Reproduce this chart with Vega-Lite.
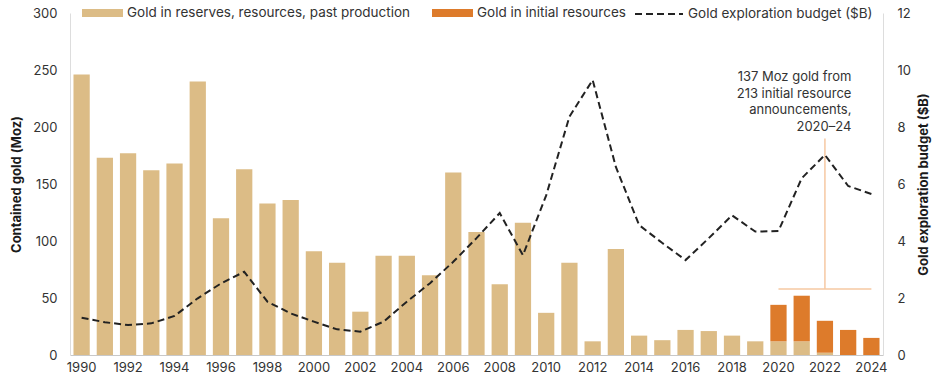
{
  "$schema": "https://vega.github.io/schema/vega-lite/v6.json",
  "autosize": "none",
  "width": 813,
  "height": 342,
  "padding": {"left": 70, "top": 13, "right": 59, "bottom": 29},
  "background": "white",
  "config": {
    "font": "Inter",
    "view": {"stroke": null},
    "axis": {"labelFont": "Inter", "labelFontSize": 13, "labelColor": "#333333", "titleFont": "Inter", "titleFontSize": 13, "titleColor": "#1a1a1a", "titleFontWeight": "bold", "ticks": false, "grid": false},
    "legend": {"labelFont": "Inter", "labelFontSize": 13.5, "labelColor": "#333333", "labelLimit": 0}
  },
  "datasets": {
    "bars": [
      {"year": 1990, "series": "Gold in reserves, resources, past production", "value": 246},
      {"year": 1991, "series": "Gold in reserves, resources, past production", "value": 173},
      {"year": 1992, "series": "Gold in reserves, resources, past production", "value": 177},
      {"year": 1993, "series": "Gold in reserves, resources, past production", "value": 162},
      {"year": 1994, "series": "Gold in reserves, resources, past production", "value": 168},
      {"year": 1995, "series": "Gold in reserves, resources, past production", "value": 240},
      {"year": 1996, "series": "Gold in reserves, resources, past production", "value": 120},
      {"year": 1997, "series": "Gold in reserves, resources, past production", "value": 163},
      {"year": 1998, "series": "Gold in reserves, resources, past production", "value": 133},
      {"year": 1999, "series": "Gold in reserves, resources, past production", "value": 136},
      {"year": 2000, "series": "Gold in reserves, resources, past production", "value": 91},
      {"year": 2001, "series": "Gold in reserves, resources, past production", "value": 81},
      {"year": 2002, "series": "Gold in reserves, resources, past production", "value": 38},
      {"year": 2003, "series": "Gold in reserves, resources, past production", "value": 87},
      {"year": 2004, "series": "Gold in reserves, resources, past production", "value": 87},
      {"year": 2005, "series": "Gold in reserves, resources, past production", "value": 70},
      {"year": 2006, "series": "Gold in reserves, resources, past production", "value": 160},
      {"year": 2007, "series": "Gold in reserves, resources, past production", "value": 108},
      {"year": 2008, "series": "Gold in reserves, resources, past production", "value": 62},
      {"year": 2009, "series": "Gold in reserves, resources, past production", "value": 116},
      {"year": 2010, "series": "Gold in reserves, resources, past production", "value": 37},
      {"year": 2011, "series": "Gold in reserves, resources, past production", "value": 81},
      {"year": 2012, "series": "Gold in reserves, resources, past production", "value": 12},
      {"year": 2013, "series": "Gold in reserves, resources, past production", "value": 93},
      {"year": 2014, "series": "Gold in reserves, resources, past production", "value": 17},
      {"year": 2015, "series": "Gold in reserves, resources, past production", "value": 13},
      {"year": 2016, "series": "Gold in reserves, resources, past production", "value": 22},
      {"year": 2017, "series": "Gold in reserves, resources, past production", "value": 21},
      {"year": 2018, "series": "Gold in reserves, resources, past production", "value": 17},
      {"year": 2019, "series": "Gold in reserves, resources, past production", "value": 12},
      {"year": 2020, "series": "Gold in reserves, resources, past production", "value": 12},
      {"year": 2021, "series": "Gold in reserves, resources, past production", "value": 12},
      {"year": 2022, "series": "Gold in reserves, resources, past production", "value": 2},
      {"year": 2023, "series": "Gold in reserves, resources, past production", "value": 0},
      {"year": 2024, "series": "Gold in reserves, resources, past production", "value": 0},
      {"year": 2020, "series": "Gold in initial resources", "value": 32},
      {"year": 2021, "series": "Gold in initial resources", "value": 40},
      {"year": 2022, "series": "Gold in initial resources", "value": 28},
      {"year": 2023, "series": "Gold in initial resources", "value": 22},
      {"year": 2024, "series": "Gold in initial resources", "value": 15}
    ],
    "budget": [
      {"year": 1990, "series": "Gold exploration budget ($B)", "value": 1.31},
      {"year": 1991, "series": "Gold exploration budget ($B)", "value": 1.15},
      {"year": 1992, "series": "Gold exploration budget ($B)", "value": 1.05},
      {"year": 1993, "series": "Gold exploration budget ($B)", "value": 1.11},
      {"year": 1994, "series": "Gold exploration budget ($B)", "value": 1.37},
      {"year": 1995, "series": "Gold exploration budget ($B)", "value": 1.99},
      {"year": 1996, "series": "Gold exploration budget ($B)", "value": 2.51},
      {"year": 1997, "series": "Gold exploration budget ($B)", "value": 2.92},
      {"year": 1998, "series": "Gold exploration budget ($B)", "value": 1.87},
      {"year": 1999, "series": "Gold exploration budget ($B)", "value": 1.46},
      {"year": 2000, "series": "Gold exploration budget ($B)", "value": 1.17},
      {"year": 2001, "series": "Gold exploration budget ($B)", "value": 0.9},
      {"year": 2002, "series": "Gold exploration budget ($B)", "value": 0.82},
      {"year": 2003, "series": "Gold exploration budget ($B)", "value": 1.17},
      {"year": 2004, "series": "Gold exploration budget ($B)", "value": 1.87},
      {"year": 2005, "series": "Gold exploration budget ($B)", "value": 2.52},
      {"year": 2006, "series": "Gold exploration budget ($B)", "value": 3.27},
      {"year": 2007, "series": "Gold exploration budget ($B)", "value": 4.1},
      {"year": 2008, "series": "Gold exploration budget ($B)", "value": 4.98},
      {"year": 2009, "series": "Gold exploration budget ($B)", "value": 3.5},
      {"year": 2010, "series": "Gold exploration budget ($B)", "value": 5.6},
      {"year": 2011, "series": "Gold exploration budget ($B)", "value": 8.36},
      {"year": 2012, "series": "Gold exploration budget ($B)", "value": 9.65},
      {"year": 2013, "series": "Gold exploration budget ($B)", "value": 6.6},
      {"year": 2014, "series": "Gold exploration budget ($B)", "value": 4.56},
      {"year": 2015, "series": "Gold exploration budget ($B)", "value": 3.93},
      {"year": 2016, "series": "Gold exploration budget ($B)", "value": 3.33},
      {"year": 2017, "series": "Gold exploration budget ($B)", "value": 4.1},
      {"year": 2018, "series": "Gold exploration budget ($B)", "value": 4.9},
      {"year": 2019, "series": "Gold exploration budget ($B)", "value": 4.33},
      {"year": 2020, "series": "Gold exploration budget ($B)", "value": 4.35},
      {"year": 2021, "series": "Gold exploration budget ($B)", "value": 6.2},
      {"year": 2022, "series": "Gold exploration budget ($B)", "value": 7.02},
      {"year": 2023, "series": "Gold exploration budget ($B)", "value": 5.93},
      {"year": 2024, "series": "Gold exploration budget ($B)", "value": 5.65}
    ],
    "bracket": [
      {"x1": 2022, "x2": 2022, "y1": 58, "y2": 190},
      {"x1": 2020, "x2": 2024, "y1": 58, "y2": 58}
    ],
    "note": [
      {"year": 2024, "y": 249, "label": ["137 Moz gold from", "213 initial resource", "announcements,", "2020–24"]}
    ]
  },
  "layer": [
    {
      "layer": [
        {
          "data": {"name": "bars"},
          "mark": {"type": "bar"},
          "encoding": {
            "x": {
              "field": "year", "type": "ordinal",
              "scale": {"paddingInner": 0.3, "paddingOuter": 0.15},
              "axis": {"title": null, "labelAngle": 0, "values": [1990, 1992, 1994, 1996, 1998, 2000, 2002, 2004, 2006, 2008, 2010, 2012, 2014, 2016, 2018, 2020, 2022, 2024], "domainColor": "#c8c8c8", "labelPadding": 6}
            },
            "y": {
              "field": "value", "type": "quantitative", "stack": "zero",
              "scale": {"domain": [0, 300]},
              "axis": {"title": "Contained gold (Moz)", "values": [0, 50, 100, 150, 200, 250, 300], "domainColor": "#dddddd", "labelPadding": 13, "titlePadding": 9}
            },
            "color": {
              "field": "series", "type": "nominal",
              "scale": {"domain": ["Gold in reserves, resources, past production", "Gold in initial resources"], "range": ["#dcbc86", "#dd7b2b"]},
              "legend": {"title": null, "orient": "none", "legendX": 12, "legendY": -20.5, "direction": "horizontal", "symbolType": "M-1,-0.19H1V0.19H-1Z", "symbolSize": 1681, "symbolStrokeWidth": 0, "labelOffset": 4, "columnPadding": 21, "padding": 0}
            },
            "order": {"field": "series", "sort": "descending"}
          }
        },
        {
          "data": {"name": "bracket"},
          "mark": {"type": "rule", "color": "#f6c8a2", "strokeWidth": 1.5},
          "encoding": {
            "x": {"field": "x1", "type": "ordinal"},
            "x2": {"field": "x2"},
            "y": {"field": "y1", "type": "quantitative", "axis": {"title": "Contained gold (Moz)", "values": [0, 50, 100, 150, 200, 250, 300], "domainColor": "#dddddd", "labelPadding": 13, "titlePadding": 9}},
            "y2": {"field": "y2"}
          }
        },
        {
          "data": {"name": "note"},
          "mark": {"type": "text", "align": "right", "baseline": "top", "dx": -20, "fontSize": 13, "lineHeight": 16.5, "color": "#333333"},
          "encoding": {
            "x": {"field": "year", "type": "ordinal"},
            "y": {"field": "y", "type": "quantitative", "axis": {"title": "Contained gold (Moz)", "values": [0, 50, 100, 150, 200, 250, 300], "domainColor": "#dddddd", "labelPadding": 13, "titlePadding": 9}},
            "text": {"field": "label"}
          }
        }
      ]
    },
    {
      "data": {"name": "budget"},
      "mark": {"type": "line", "color": "#222222", "strokeWidth": 2},
      "encoding": {
        "x": {"field": "year", "type": "ordinal"},
        "y": {
          "field": "value", "type": "quantitative",
          "scale": {"domain": [0, 12]},
          "axis": {"orient": "right", "title": "Gold exploration budget ($B)", "titleAngle": 270, "values": [0, 2, 4, 6, 8, 10, 12], "domainColor": "#dddddd", "labelPadding": 14, "titlePadding": 20}
        },
        "strokeDash": {
          "field": "series", "type": "nominal",
          "scale": {"domain": ["Gold exploration budget ($B)"], "range": [[7, 4]]},
          "legend": {"title": null, "orient": "none", "legendX": 564, "legendY": -24, "symbolType": "stroke", "symbolSize": 2304, "symbolStrokeWidth": 1.8, "symbolStrokeColor": "#222222", "symbolDash": [5, 3], "labelOffset": 4, "padding": 0}
        }
      }
    }
  ],
  "resolve": {"scale": {"y": "independent"}}
}
